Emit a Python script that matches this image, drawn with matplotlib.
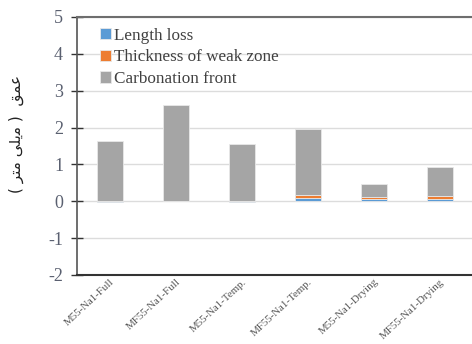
import numpy as np
import matplotlib.pyplot as plt
import matplotlib.transforms as mtransforms

# Samples and measured depths (mm)
samples = ['M55-Na1-Full', 'MF55-Na1-Full', 'M55-Na1-Temp.',
           'MF55-Na1-Temp.', 'M55-Na1-Drying', 'MF55-Na1-Drying']
length_loss = [-0.03, 0.02, -0.03, 0.08, 0.05, 0.05]
weak_zone = [0.0, 0.0, 0.0, 0.09, 0.06, 0.10]
carbonation = [1.64, 2.60, 1.56, 1.80, 0.36, 0.78]

# Persian axis label: "عمق (میلی متر)" written in shaped, visual order
ylabel = '( \uFEAE\uFE98\uFEE3 \uFBFD\uFEE0\uFBFE\uFEE3 )  \uFED6\uFEE4\uFECB'

serif = ['Liberation Serif', 'DejaVu Serif']
plt.rcParams['font.family'] = serif
plt.rcParams['axes.unicode_minus'] = False

fig = plt.figure(figsize=(4.72, 3.44), dpi=100)
ax = fig.add_axes([0.163, 0.2006, 0.839, 0.75])

x = np.arange(len(samples))
w = 0.4
ll = np.array(length_loss)
wz = np.array(weak_zone)
pos = np.clip(ll, 0, None)

ax.bar(x, ll, w, color='#5B9BD5', edgecolor='#e8e8e8', linewidth=0.6,
       label='Length loss', zorder=3)
ax.bar(x, wz, w, bottom=pos, color='#ED7D31', edgecolor='#e8e8e8', linewidth=0.6,
       label='Thickness of weak zone', zorder=3)
ax.bar(x, carbonation, w, bottom=pos + wz, color='#A5A5A5', edgecolor='#e8e8e8',
       linewidth=0.6, label='Carbonation front', zorder=3)

ax.set_xlim(-0.5, 5.5)
ax.set_ylim(-2, 5)
ax.set_yticks(range(-2, 6))
ax.yaxis.grid(True, color='#dcdcdc', linewidth=1, zorder=0)
ax.set_axisbelow(True)

ax.spines['right'].set_visible(False)
ax.spines['top'].set_color('#6e6e6e')
ax.spines['top'].set_linewidth(1.5)
ax.spines['left'].set_color('#555555')
ax.spines['left'].set_linewidth(1.2)
ax.spines['bottom'].set_color('#333333')
ax.spines['bottom'].set_linewidth(1.5)

ax.tick_params(axis='y', direction='inout', length=8, width=1, color='#333333',
               labelsize=13, labelcolor='#5a6070', pad=6)
ax.tick_params(axis='x', length=0, pad=4)
ax.set_xticks(x)
ax.set_xticklabels(samples, rotation=43, ha='right', va='center',
                   rotation_mode='anchor', fontsize=7.8, color='#555555')
shift = mtransforms.ScaledTranslation(3 / 100, 0, fig.dpi_scale_trans)
for lbl in ax.get_xticklabels():
    lbl.set_transform(lbl.get_transform() + shift)

ax.set_ylabel(ylabel, family=['DejaVu Sans'], fontsize=11, color='#222222')
ax.yaxis.set_label_coords(-0.133, 0.547)

leg = ax.legend(loc='upper left', bbox_to_anchor=(0.04, 0.985), frameon=False,
                fontsize=12.3, handlelength=0.65, handleheight=0.65, handletextpad=0.2,
                labelspacing=0.33, borderaxespad=0)
for t in leg.get_texts():
    t.set_color('#404040')

fig.savefig('out.png', dpi=100)
